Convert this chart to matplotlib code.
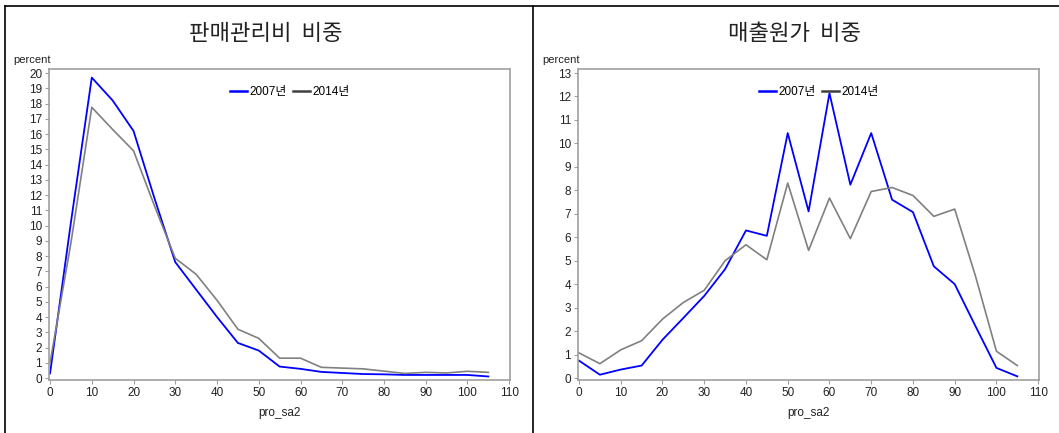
import matplotlib
matplotlib.use("Agg")
import matplotlib.pyplot as plt
from matplotlib.lines import Line2D

plt.rcParams["font.family"] = ["Liberation Sans", "Noto Sans CJK KR", "DejaVu Sans"]

# ── Data ──────────────────────────────────────────────────────────────────────
pro_sa2 = [0, 5, 10, 15, 20, 25, 30, 35, 40, 45, 50,
           55, 60, 65, 70, 75, 80, 85, 90, 95, 100, 105]

sga_2007 = [0.3, 10.2, 19.7, 18.2, 16.2, 11.8, 7.6, 5.8, 4.0, 2.3, 1.8,
            0.75, 0.6, 0.4, 0.33, 0.26, 0.24, 0.2, 0.2, 0.2, 0.2, 0.1]
sga_2014 = [1.0, 8.85, 17.75, 16.3, 14.9, 11.3, 7.85, 6.8, 5.1, 3.2, 2.6,
            1.3, 1.3, 0.7, 0.65, 0.6, 0.45, 0.3, 0.37, 0.33, 0.44, 0.37]

cogs_2007 = [0.74, 0.14, 0.36, 0.53, 1.63, 2.56, 3.5, 4.64, 6.29, 6.06, 10.44,
             7.1, 12.14, 8.24, 10.44, 7.6, 7.07, 4.76, 4.0, 2.2, 0.43, 0.07]
cogs_2014 = [1.07, 0.61, 1.2, 1.59, 2.51, 3.22, 3.74, 5.0, 5.68, 5.04, 8.31,
             5.44, 7.67, 5.94, 7.95, 8.12, 7.78, 6.89, 7.2, 4.33, 1.14, 0.53]

titles = ["판매관리비  비중", "매출원가  비중"]
y_max = [20, 13]

BLUE = "#0000FF"
GRAY = "#808080"
FRAME = "#A0A0A0"

fig = plt.figure(figsize=(10.59, 4.33), dpi=100)

panels = [
    (0.0463, sga_2007, sga_2014),
    (0.5458, cogs_2007, cogs_2014),
]

for i, (left, s07, s14) in enumerate(panels):
    ax = fig.add_axes([left, 0.1224, 0.4355, 0.7182])
    ax.plot(pro_sa2, s07, color=BLUE, linewidth=1.3, label="2007년")
    ax.plot(pro_sa2, s14, color=GRAY, linewidth=1.2, label="2014년")

    top = y_max[i]
    unit = 305 / top  # px per unit
    ax.set_ylim(-2 / unit, top + 4 / unit)
    ax.set_xlim(-0.24, 110.24)
    ax.set_xticks(range(0, 111, 10))
    ax.set_yticks(range(0, top + 1))

    for sp in ax.spines.values():
        sp.set_color(FRAME)
        sp.set_linewidth(1.2)
    ax.tick_params(direction="out", length=3, width=0.8, color=FRAME,
                   labelsize=8.5, labelcolor="#222222", pad=2)

    ax.set_xlabel("pro_sa2", fontsize=8.5, color="#222222", labelpad=6)
    ax.text(-0.078, 1.03, "percent", transform=ax.transAxes, fontsize=8,
            color="#222222", ha="left", va="center")

    handles = [Line2D([], [], color=BLUE, linewidth=1.8),
               Line2D([], [], color="#404040", linewidth=1.8)]
    ax.legend(handles, ["2007년", "2014년"], loc="upper center",
              bbox_to_anchor=(0.522, 0.98), ncol=2, frameon=False,
              fontsize=8.5, handlelength=1.4, handletextpad=0.2,
              columnspacing=0.6)

    fig.text(left + 0.4355 / 2 - 0.013, 0.922, titles[i],
             family=["Noto Sans CJK KR"], fontsize=16, color="#222222",
             ha="center", va="center")

# panel frames
for x in (5 / 1059, 533 / 1059):
    fig.add_artist(Line2D([x, x], [0, 1 - 6 / 433], color="black", linewidth=1.2))
fig.add_artist(Line2D([5 / 1059, 1], [1 - 6 / 433, 1 - 6 / 433], color="black", linewidth=1.2))

fig.savefig("out.png", dpi=100)
